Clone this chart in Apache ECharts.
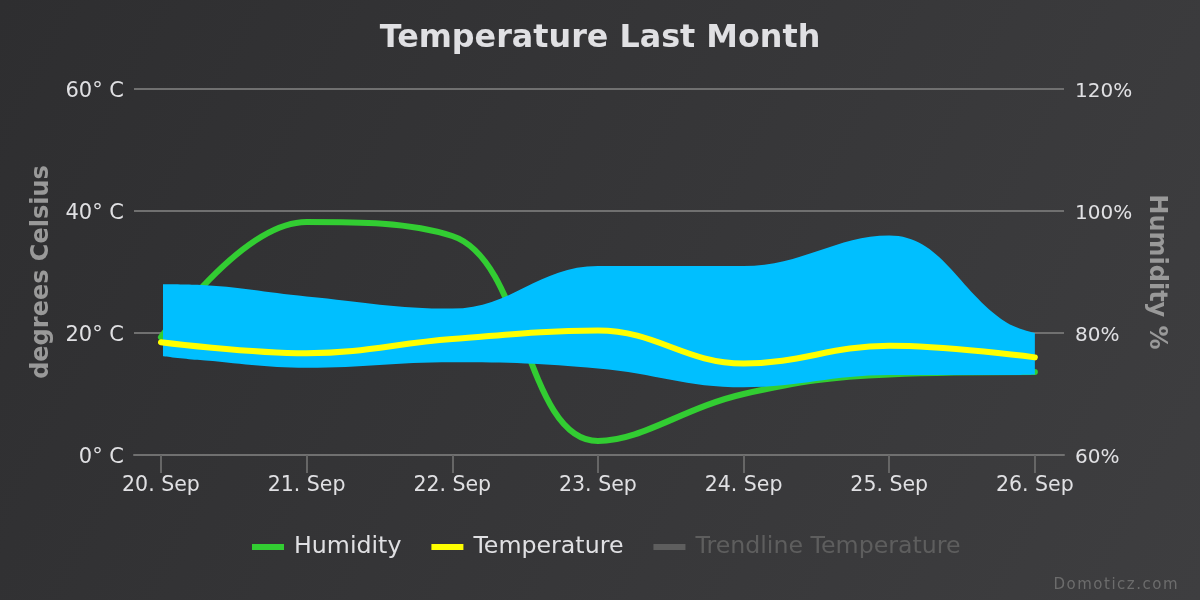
<!DOCTYPE html>
<html>
<head>
<meta charset="utf-8">
<style>
html,body{margin:0;padding:0;background:#333}
#chart{width:1200px;height:600px}
#credit{position:absolute;right:21px;bottom:7px;font:15px "DejaVu Sans",sans-serif;letter-spacing:1.5px;color:#6c6c6c}
</style>
<script src="https://cdn.jsdelivr.net/npm/echarts@6/dist/echarts.min.js"></script>
</head>
<body>
<div id="chart"></div>
<div id="credit">Domoticz.com</div>
<script>
const days = [20, 21, 22, 23, 24, 25, 26];
const humidity = [79.3, 98.2, 95.9, 62.3, 70, 73.2, 73.6];
const temperature = [18.5, 16.7, 19, 20.4, 15, 17.9, 16];
// range is read at a few extra spots, its ends flatten out in the picture
const rangeDays = [20.014, 20.25, 21, 22, 23, 24, 25, 25.8, 26];
const tempLow = [16.2, 15.6, 14.3, 15.2, 14.2, 11.1, 13.1, 13.1, 13.2];
const tempHigh = [28, 27.9, 26, 24, 31, 31, 36, 21.8, 20];
const trendline = [];

const font = '"DejaVu Sans", sans-serif';
const dayMs = 86400000;
const stamp = (d) => new Date(2016, 8, 1).getTime() + (d - 1) * dayMs;
const stamps = days.map(stamp);
const pairs = (vals) => vals.map((v, i) => [stamps[i], v]);
const rangePairs = (vals) => vals.map((v, i) => [stamp(rangeDays[i]), v]);

const smoothLine = { type: 'line', smooth: 0.4, showSymbol: false };

const chart = echarts.init(document.getElementById('chart'));
chart.setOption({
  animation: false,
  backgroundColor: new echarts.graphic.LinearGradient(0, 0, 1, 1, [
    { offset: 0, color: '#2e2e30' },
    { offset: 1, color: '#3e3e40' }
  ]),
  title: {
    text: 'Temperature Last Month',
    left: 'center',
    top: 18,
    textStyle: { color: '#e0e0e3', fontFamily: font, fontSize: 31.8, fontWeight: 'bold' }
  },
  legend: {
    data: ['Humidity', 'Temperature', 'Trendline Temperature'],
    selected: { 'Trendline Temperature': false },
    left: 252,
    top: 535,
    padding: 0,
    icon: 'rect',
    itemWidth: 32,
    itemHeight: 6,
    itemGap: 30,
    inactiveColor: '#5e5e5e',
    lineStyle: { width: 0 },
    textStyle: { color: '#e0e0e3', fontFamily: font, fontSize: 23.7, padding: [0, 0, 0, 5] }
  },
  grid: { left: 134, right: 136, top: 89, bottom: 145 },
  xAxis: {
    type: 'time',
    min: stamps[0] - 0.185 * dayMs,
    max: stamps[6] + 0.2 * dayMs,
    splitLine: { show: false },
    axisLine: { lineStyle: { color: '#707070', width: 2 } },
    axisTick: { customValues: stamps, length: 18, lineStyle: { color: '#666', width: 2 } },
    axisLabel: {
      formatter: (v) => stamps.includes(v) ? new Date(v).getDate() + '. Sep' : '',
      color: '#e0e0e3',
      fontFamily: font,
      fontSize: 20.5,
      margin: 20,
      hideOverlap: false
    }
  },
  yAxis: [
    {
      type: 'value',
      min: 0,
      max: 60,
      interval: 20,
      name: 'degrees Celsius',
      nameLocation: 'middle',
      nameGap: 80,
      nameTextStyle: { color: '#999', fontFamily: font, fontSize: 24, fontWeight: 'bold' },
      axisLine: { show: false },
      axisTick: { show: false },
      splitLine: { lineStyle: { color: '#707070', width: 2 } },
      axisLabel: { formatter: '{value}° C', color: '#e0e0e3', fontFamily: font, fontSize: 21, margin: 10, verticalAlign: 'top', lineHeight: 6 }
    },
    {
      type: 'value',
      min: 60,
      max: 120,
      interval: 20,
      name: 'Humidity %',
      nameLocation: 'middle',
      nameRotate: -90,
      nameGap: 80,
      nameTextStyle: { color: '#999', fontFamily: font, fontSize: 24, fontWeight: 'bold' },
      axisLine: { show: false },
      axisTick: { show: false },
      splitLine: { show: false },
      axisLabel: { formatter: '{value}%', color: '#e0e0e3', fontFamily: font, fontSize: 20, margin: 11, verticalAlign: 'top', lineHeight: 6 }
    }
  ],
  series: [
    {
      ...smoothLine,
      name: 'Humidity',
      yAxisIndex: 1,
      data: pairs(humidity),
      z: 2,
      lineStyle: { color: '#32cd32', width: 6, cap: 'round' },
      itemStyle: { color: '#32cd32' }
    },
    {
      ...smoothLine,
      name: 'Range low',
      stack: 'range',
      data: rangePairs(tempLow),
      z: 3,
      lineStyle: { width: 0 },
      itemStyle: { color: '#00bfff' }
    },
    {
      ...smoothLine,
      name: 'Range',
      stack: 'range',
      data: rangePairs(tempHigh.map((h, i) => h - tempLow[i])),
      z: 3,
      lineStyle: { width: 0 },
      itemStyle: { color: '#00bfff' },
      areaStyle: { color: '#00bfff', opacity: 1 }
    },
    {
      ...smoothLine,
      name: 'Temperature',
      data: pairs(temperature),
      z: 4,
      lineStyle: { color: '#ffff00', width: 6, cap: 'round' },
      itemStyle: { color: '#ffff00' }
    },
    {
      name: 'Trendline Temperature',
      type: 'line',
      data: trendline,
      showSymbol: false,
      lineStyle: { color: '#666', width: 6 },
      itemStyle: { color: '#666' }
    }
  ]
});
</script>
</body>
</html>
